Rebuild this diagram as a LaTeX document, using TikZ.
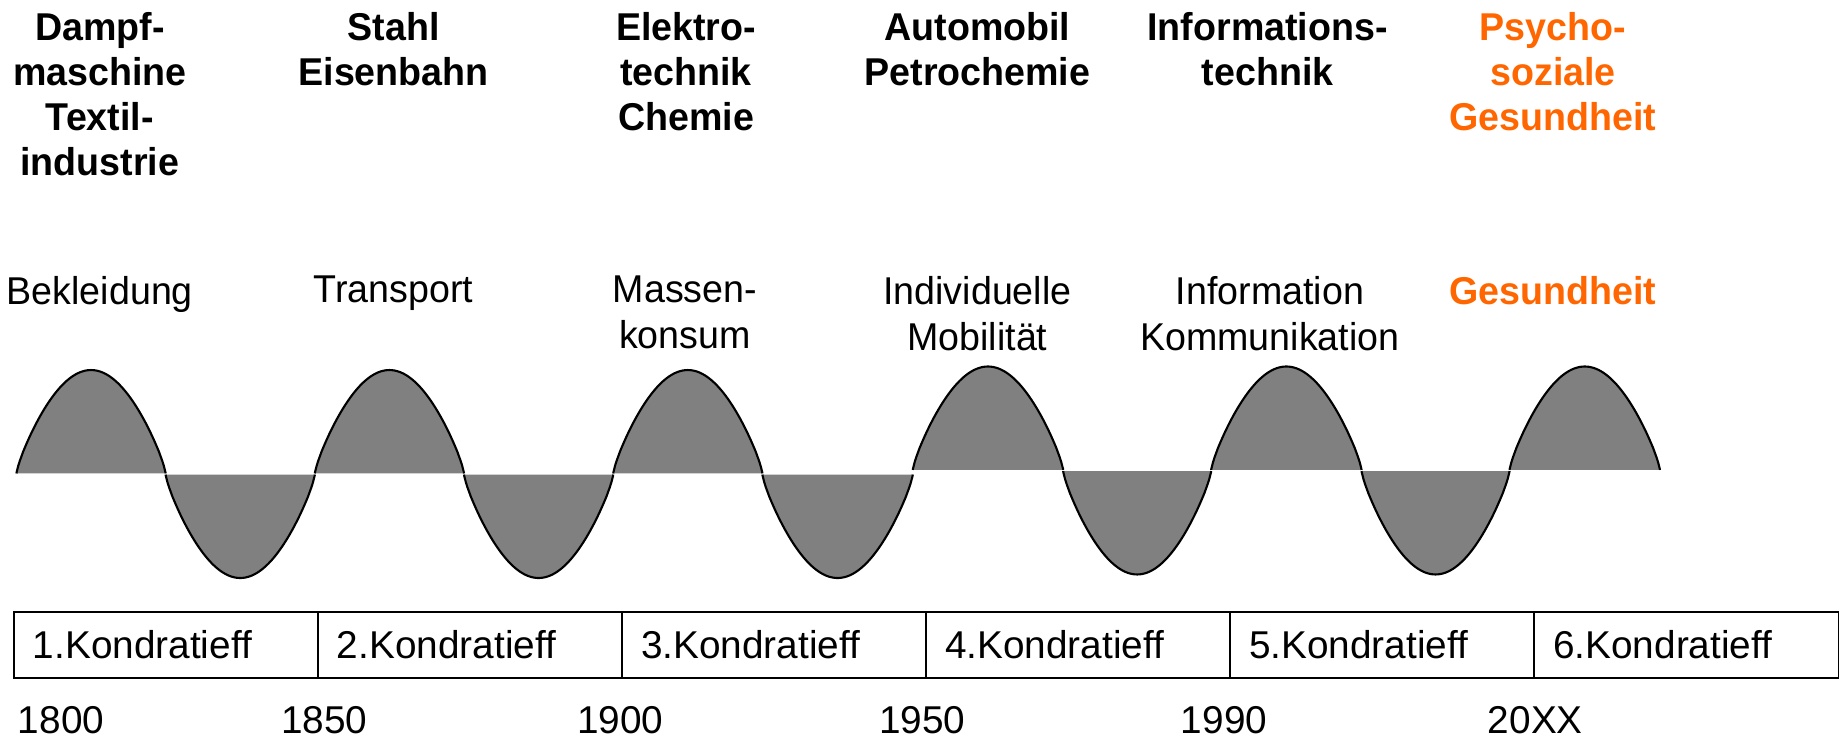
\documentclass[tikz,border=0pt]{standalone}
\usepackage{fontspec}
\setmainfont{Liberation Sans}
\newfontfamily\narrowsans[FakeStretch=0.97]{Liberation Sans}
\definecolor{accent}{HTML}{FF6600}
\definecolor{wavegray}{HTML}{808080}
\begin{document}
\begin{tikzpicture}[x=1pt,y=-1pt,
  head/.style={font=\fontsize{33}{38.5}\selectfont\narrowsans\bfseries, align=center, anchor=north, inner sep=0pt},
  sub/.style={font=\fontsize{33}{39}\selectfont\narrowsans, align=center, anchor=north, inner sep=0pt},
  cell/.style={draw, line width=1.6pt, minimum width=258.83pt, minimum height=56pt,
    inner xsep=16pt, inner ysep=0pt, text width=226.83pt, align=left,
    font=\fontsize{33}{38.5}\selectfont},
  year/.style={font=\fontsize{33}{38.5}\selectfont, anchor=base, inner sep=0pt},
  wavefill/.style={fill=wavegray},
  waveline/.style={draw=black, line width=1.8pt, line join=round}]
\useasboundingbox (0,0) rectangle (1568,629);

% technologies of each long wave
\node[head] (t1) at (85,10)   {Dampf-\\maschine\\Textil-\\industrie};
\node[head] (t2) at (335,10)  {Stahl\\Eisenbahn};
\node[head] (t3) at (584,10)  {Elektro-\\technik\\Chemie};
\node[head] (t4) at (832,10)  {Automobil\\Petrochemie};
\node[head] (t5) at (1079,10) {Informations-\\technik};
\node[head, text=accent] (t6) at (1322,10) {Psycho-\\soziale\\Gesundheit};

% fields of demand
\node[sub] (d1) at (85,235)   {Bekleidung};
\node[sub] (d2) at (335,235)  {Transport};
\node[sub] (d3) at (583,235)  {Massen-\\konsum};
\node[sub] (d4) at (832,235)  {Individuelle\\Mobilität};
\node[sub] (d5) at (1081,235) {Information\\Kommunikation};
\node[sub, font=\fontsize{33}{39}\selectfont\narrowsans\bfseries, text=accent] (d6) at (1322,235) {Gesundheit};

% the wave, one rounded hump at a time
\foreach \xa/\xb/\yb/\s in {14/141/403/1, 141/268/404/-1, 268/395/403/1, 395/522/404/-1,
    522/649/403/1, 649/777/404/-1, 777/905/400/1, 905/1031/401/-1, 1031/1159/400/1,
    1159/1285/401/-1, 1285/1413/400/1}{
  \fill[wavefill] (\xa,\yb) -- plot[domain=0.2:179.8, samples=91] ({\xa+\x/180*(\xb-\xa)},{\yb-\s*88*sin(\x)^0.8}) -- (\xb,\yb) -- cycle;
  \draw[waveline] (\xa,\yb) -- plot[domain=0.2:179.8, samples=91] ({\xa+\x/180*(\xb-\xa)},{\yb-\s*88*sin(\x)^0.8}) -- (\xb,\yb);
}

% the six cycles
\foreach \i in {1,...,6}{
  \node[cell] (k\i) at ({12+258.83*(\i-0.5)},549) {\i.Kondratieff};
}

% years
\node[year] (y1) at (52,624)   {1800};
\node[year] (y2) at (276,624)  {1850};
\node[year] (y3) at (528,624)  {1900};
\node[year] (y4) at (785,624)  {1950};
\node[year] (y5) at (1042,624) {1990};
\node[year] (y6) at (1307,624) {20XX};
\end{tikzpicture}
\end{document}
